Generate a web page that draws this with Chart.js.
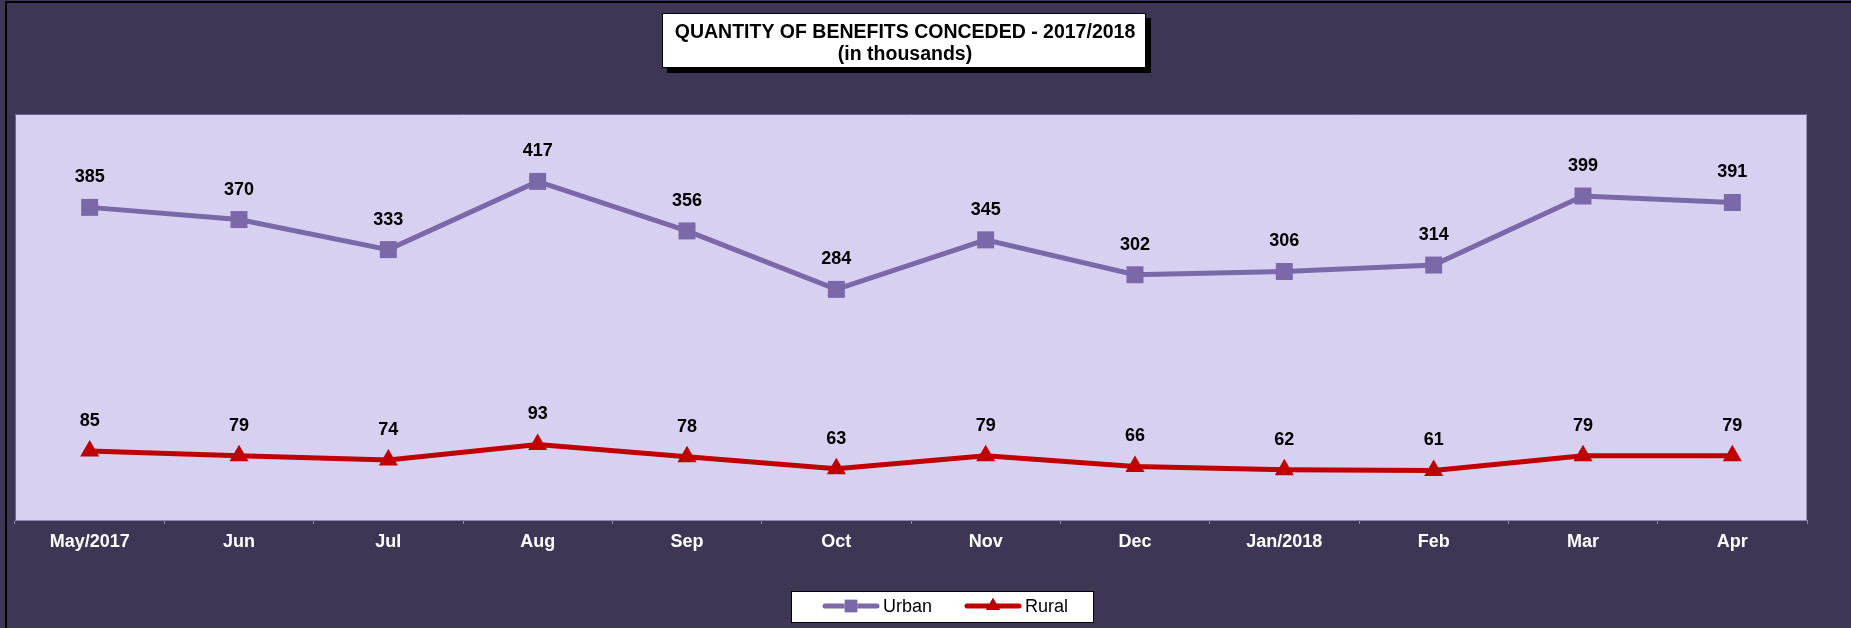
<!DOCTYPE html>
<html>
<head>
<meta charset="utf-8">
<script src="https://cdn.jsdelivr.net/npm/chart.js@4"></script>
<style>
  html, body { margin: 0; padding: 0; background: #3F3656; }
  #wrap { width: 1851px; height: 628px; position: relative; }
</style>
</head>
<body>
<div id="wrap"><canvas id="benefitsChart" width="1851" height="628"></canvas></div>
<script>
// chart data
const months = ['May/2017', 'Jun', 'Jul', 'Aug', 'Sep', 'Oct', 'Nov', 'Dec', 'Jan/2018', 'Feb', 'Mar', 'Apr'];
const urban = [385, 370, 333, 417, 356, 284, 345, 302, 306, 314, 399, 391];
const rural = [85, 79, 74, 93, 78, 63, 79, 66, 62, 61, 79, 79];
const titleLines = ['QUANTITY OF BENEFITS CONCEDED - 2017/2018', '(in thousands)'];

const FONT = '"Liberation Sans", Arial, sans-serif';

// background, frame, plot area fill
const framePlugin = {
    id: 'frame',
    beforeDraw(chart) {
        const ctx = chart.ctx;
        const a = chart.chartArea;
        ctx.save();
        ctx.fillStyle = '#3F3656';
        ctx.fillRect(0, 0, chart.width, chart.height);
        ctx.strokeStyle = '#000';
        ctx.lineWidth = 2;
        ctx.beginPath();
        ctx.moveTo(6, chart.height);
        ctx.lineTo(6, 2);
        ctx.lineTo(chart.width, 2);
        ctx.stroke();
        ctx.fillStyle = '#D8D0F0';
        ctx.fillRect(a.left, a.top, a.right - a.left, a.bottom - a.top);
        ctx.strokeStyle = '#6E6592';
        ctx.lineWidth = 1;
        ctx.beginPath();
        ctx.moveTo(a.left + 0.5, a.bottom);
        ctx.lineTo(a.left + 0.5, a.top + 0.5);
        ctx.lineTo(a.right, a.top + 0.5);
        ctx.stroke();
        ctx.strokeStyle = '#9A92B8';
        ctx.beginPath();
        ctx.moveTo(a.right - 0.5, a.top);
        ctx.lineTo(a.right - 0.5, a.bottom);
        ctx.stroke();
        ctx.restore();
    },
    afterDraw(chart) {
        const ctx = chart.ctx;
        ctx.save();
        // title box with shadow
        const bx = 662, by = 13, bw = 484, bh = 55;
        ctx.fillStyle = '#000';
        ctx.fillRect(bx + 5, by + 5, bw, bh);
        ctx.fillStyle = '#fff';
        ctx.fillRect(bx, by, bw, bh);
        ctx.strokeStyle = '#000';
        ctx.lineWidth = 1;
        ctx.strokeRect(bx + 0.5, by + 0.5, bw - 1, bh - 1);
        ctx.fillStyle = '#000';
        ctx.font = 'bold 19.5px ' + FONT;
        ctx.textAlign = 'center';
        ctx.textBaseline = 'middle';
        ctx.fillText(titleLines[0], bx + bw / 2 + 1, 33);
        ctx.fillText(titleLines[1], bx + bw / 2 + 1, 55);

        // legend
        const lx = 791, ly = 591, lw = 303, lh = 32;
        ctx.fillStyle = '#fff';
        ctx.fillRect(lx, ly, lw, lh);
        ctx.strokeStyle = '#000';
        ctx.strokeRect(lx + 0.5, ly + 0.5, lw - 1, lh - 1);
        const items = [
            { ds: chart.data.datasets[0], x: 823 },
            { ds: chart.data.datasets[1], x: 965 }
        ];
        const cy = 606;
        items.forEach(it => {
            ctx.strokeStyle = it.ds.borderColor;
            ctx.lineWidth = 5;
            ctx.lineCap = 'round';
            ctx.beginPath();
            ctx.moveTo(it.x + 2, cy);
            ctx.lineTo(it.x + 54, cy);
            ctx.stroke();
            Chart.helpers.drawPoint(ctx, {
                pointStyle: it.ds.pointStyle,
                radius: it.ds.pointStyle === 'rect' ? 9 : 8,
                borderWidth: 0
            }, it.x + 28, cy);
            ctx.fillStyle = it.ds.borderColor;
            ctx.fill();
            ctx.fillStyle = '#000';
            ctx.font = '18px ' + FONT;
            ctx.textAlign = 'left';
            ctx.textBaseline = 'middle';
            ctx.fillText(it.ds.label, it.x + 60, cy + 1);
        });

        // data labels above each point
        ctx.font = 'bold 18px ' + FONT;
        ctx.textAlign = 'center';
        ctx.textBaseline = 'middle';
        ctx.fillStyle = '#000';
        chart.data.datasets.forEach((ds, i) => {
            const meta = chart.getDatasetMeta(i);
            meta.data.forEach((pt, j) => {
                ctx.fillText(String(ds.data[j]), pt.x, pt.y - 30);
            });
        });
        ctx.restore();
    }
};

const ctx = document.getElementById('benefitsChart').getContext('2d');
new Chart(ctx, {
    type: 'line',
    data: {
        labels: months,
        datasets: [
            {
                label: 'Urban',
                data: urban,
                borderColor: '#7A68A8',
                backgroundColor: '#7A68A8',
                borderWidth: 5,
                pointStyle: 'rect',
                pointRadius: 12,
                pointBorderWidth: 0,
                tension: 0
            },
            {
                label: 'Rural',
                data: rural,
                borderColor: '#C00000',
                backgroundColor: '#C00000',
                borderWidth: 5,
                pointStyle: 'triangle',
                pointRadius: 11,
                pointBorderWidth: 0,
                tension: 0
            }
        ]
    },
    options: {
        responsive: false,
        animation: false,
        layout: {
            padding: { left: 15, right: 44, top: 114, bottom: 0 }
        },
        plugins: {
            legend: { display: false },
            title: { display: false },
            tooltip: { enabled: false }
        },
        scales: {
            x: {
                offset: true,
                grid: {
                    display: true,
                    drawOnChartArea: false,
                    color: '#8E86AE',
                    tickLength: 4,
                    offset: true
                },
                border: { display: true, color: '#8E86AE', width: 1 },
                ticks: {
                    color: '#FFFFFF',
                    font: { family: FONT, size: 18, weight: 'bold' },
                    padding: 7,
                    maxRotation: 0,
                    autoSkip: false
                },
                afterFit(scale) { scale.height = 108; }
            },
            y: {
                display: false,
                min: 0,
                max: 500
            }
        }
    },
    plugins: [framePlugin]
});
</script>
</body>
</html>
